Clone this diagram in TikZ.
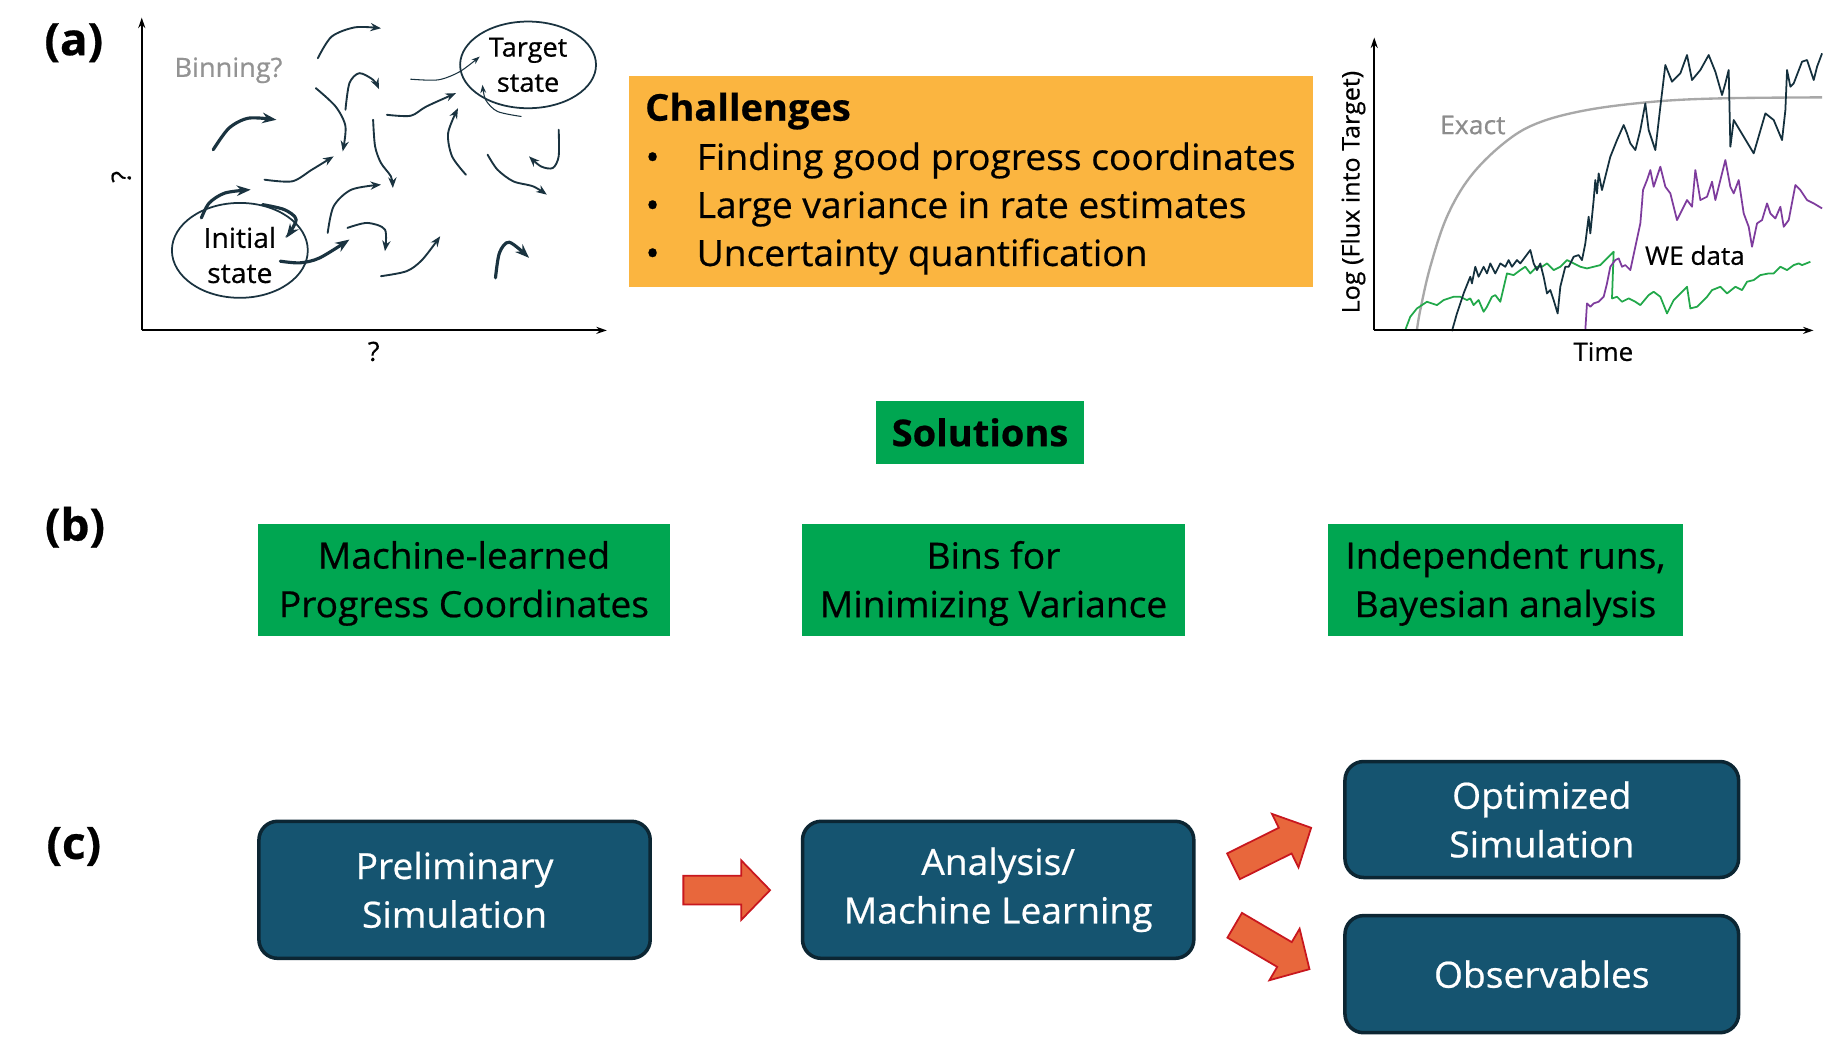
\documentclass[tikz,border=0pt]{standalone}
\usepackage{fontspec}
\setmainfont{Open Sans}[FakeBold=0.6, FakeStretch=1.03]
\usetikzlibrary{arrows.meta,shapes.geometric}
\definecolor{sgreen}{HTML}{00A651}
\definecolor{sorange}{HTML}{FBB540}
\definecolor{dteal}{HTML}{155470}
\definecolor{dline}{HTML}{0C2633}
\definecolor{navy}{HTML}{1A3340}
\definecolor{afill}{HTML}{E8673C}
\definecolor{aline}{HTML}{C8171E}
\definecolor{cgreen}{HTML}{22A84A}
\definecolor{cpurple}{HTML}{7E3C9D}
\definecolor{cdark}{HTML}{14303D}
\definecolor{cgray}{HTML}{A8A8A8}
\tikzset{
  lbl/.style={font=\fontsize{38}{38}\selectfont\bfseries},
  big/.style={font=\fontsize{30.8}{41.5}\selectfont, align=center},
  gbox/.style={fill=sgreen, inner sep=0pt},
  gtext/.style={big, inner sep=0pt, yshift=-3pt},
  dbox/.style={big, text=white, fill=dteal, draw=dline, line width=3pt, rounded corners=16pt, inner sep=0pt},
  small/.style={font=\fontsize{22.5}{30}\selectfont, align=center},
  tr/.style={draw=navy, line width=1.6pt, line cap=round, -{Stealth[length=9pt,width=7pt]}},
  trk/.style={tr, line width=2.7pt, -{Stealth[length=12pt,width=9pt]}},
  trt/.style={tr, line width=0.9pt, -{Stealth[length=7pt,width=5pt]}},
  axis/.style={draw=black, line width=1.8pt, -{Stealth[length=9pt,width=6pt]}},
  jag/.style={line width=1.5pt, line join=round},
  barrow/.pic={\path[fill=afill, draw=aline, line width=1.5pt, line join=miter]
     (-37,-12.25) -- (12.3,-12.25) -- (12.3,-25.5) -- (37,0) -- (12.3,25.5) -- (12.3,12.25) -- (-37,12.25) -- cycle;}
}
\begin{document}
\begin{tikzpicture}[x=1pt,y=-1pt]
\useasboundingbox[fill=white] (0,0) rectangle (1568,897);

% ---------- labels
\node[lbl] (la) at (63,36.5) {(a)};
\node[lbl] (lb) at (64,450) {(b)};
\node[lbl] (lc) at (63,722.5) {(c)};

% ---------- panel (a) left sketch
\coordinate (ao) at (121,282);
\coordinate (ay) at (121,15);
\coordinate (ax) at (518,282);
\draw[axis] (ao) -- (ay);
\draw[axis] (ao) -- (ax);
\node[small, rotate=90] (qy) at (103.5,151) {?};
\node[small] (qx) at (319,300) {?};
\node[small, text=gray!85] (bin) at (195,60) {Binning?};

\begin{scope}[x=0.337pt, y=-0.284pt]
  \node[draw=navy, line width=1.5pt, ellipse, minimum width=116pt, minimum height=81pt, inner sep=0pt] (init) at (607.5,752.5) {};
  \node[font=\fontsize{23.5}{30}\selectfont, align=center, inner sep=0pt, yshift=-4pt] (initt) at (init.center) {Initial\\state};
  \node[draw=navy, line width=1.5pt, ellipse, minimum width=116pt, minimum height=74pt, inner sep=0pt] (targ) at (1337.5,195) {};
  \node[font=\fontsize{22.5}{30}\selectfont, align=center, inner sep=0pt] (targt) at (targ.center) {Target\\state};
  \draw[tr] plot[smooth] coordinates {(805,175) (840,110) (900,82) (965,85)};
  \draw[trt] plot[smooth] coordinates {(1040,238) (1110,240) (1165,215) (1215,170)};
  \draw[trt] plot[smooth] coordinates {(1320,350) (1260,335) (1230,300) (1222,255)};
  \draw[tr] plot[smooth] coordinates {(800,265) (850,320) (875,380) (868,455)};
  \draw[tr] plot[smooth] coordinates {(875,330) (885,250) (910,220) (945,240) (960,268)};
  \draw[trk] plot[smooth] coordinates {(540,450) (580,385) (630,355) (700,360)};
  \draw[tr] plot[smooth] coordinates {(945,360) (950,440) (965,490) (990,530) (995,565)};
  \draw[tr] plot[smooth] coordinates {(980,345) (1040,348) (1080,320) (1155,280)};
  \draw[tr] plot[smooth] coordinates {(1180,525) (1145,470) (1135,400) (1160,325)};
  \draw[tr] plot[smooth] coordinates {(1415,390) (1415,470) (1400,505) (1370,500) (1340,470)};
  \draw[tr] plot[smooth] coordinates {(1235,465) (1260,510) (1300,545) (1350,560) (1385,585)};
  \draw[tr] plot[smooth] coordinates {(670,540) (740,545) (790,510) (845,470)};
  \draw[trk] plot[smooth] coordinates {(510,655) (530,610) (570,580) (635,570)};
  \draw[trk] plot[smooth] coordinates {(665,615) (720,630) (750,660) (725,715)};
  \draw[tr] plot[smooth] coordinates {(830,700) (845,620) (890,570) (965,555)};
  \draw[trk] plot[smooth] coordinates {(710,785) (760,790) (810,775) (885,720)};
  \draw[tr] plot[smooth] coordinates {(880,685) (930,670) (975,690) (975,755)};
  \draw[tr] plot[smooth] coordinates {(965,830) (1030,815) (1070,780) (1115,710)};
  \draw[trk] plot[smooth] coordinates {(1255,835) (1265,760) (1290,728) (1340,775)};
\end{scope}

% ---------- challenges
\node[fill=sorange, minimum width=584pt, minimum height=180pt, inner sep=0pt] (chal) at (829,155) {};
\node[anchor=base west, font=\fontsize{31.5}{36}\selectfont\bfseries, inner sep=0pt] (c0) at (550.5,103) {Challenges};
\foreach \t/\yy [count=\i] in {Finding good progress coordinates/145, Large variance in rate estimates/186, Uncertainty quantification/227}{
  \node[anchor=base, font=\fontsize{30.8}{36}\selectfont, inner sep=0pt] (bul\i) at (557,\yy) {•};
  \node[anchor=base west, font=\fontsize{30.8}{36}\selectfont, inner sep=0pt] (c\i) at (594.5,\yy) {\t};
}

% ---------- right chart
\coordinate (bo) at (1173,282);
\coordinate (by) at (1173,32);
\coordinate (bx) at (1548,282);
\begin{scope}[shift={(1126.9,0)}, x=0.2846pt, y=-0.2846pt]
  \draw[cgray, line width=2pt] plot[smooth, tension=0.6] coordinates {(290,990) (300,930) (330,800) (380,650) (450,530) (550,430) (650,370) (800,330) (1000,305) (1200,295) (1505,292)};
  \draw[jag, cgreen] plot coordinates {(255,990) (270,950) (290,925) (320,905) (335,910) (350,915) (370,900) (385,895) (400,890) (420,890) (440,900) (450,895) (460,915) (475,900) (490,935) (500,920) (515,890) (525,885) (540,905) (560,820) (580,825) (600,810) (615,800) (630,820) (650,800) (665,800) (680,790) (700,810) (720,800) (740,780) (760,790) (780,800) (800,805) (820,800) (840,795) (860,775) (880,755) (875,895) (890,890) (905,905) (925,895) (945,905) (960,915) (985,885) (1000,875) (1020,890) (1040,940) (1060,900) (1080,880) (1100,860) (1110,925) (1130,920) (1160,890) (1175,870) (1200,860) (1220,880) (1245,860) (1265,870) (1280,845) (1300,840) (1320,825) (1345,820) (1360,820) (1380,800) (1400,810) (1420,795) (1435,790) (1445,795) (1470,785)};
  \draw[jag, cpurple] plot coordinates {(795,990) (800,910) (810,920) (820,910) (835,905) (850,890) (860,850) (870,800) (885,780) (895,775) (905,800) (915,795) (930,810) (945,740) (960,670) (965,610) (968,570) (980,540) (990,510) (1000,560) (1020,500) (1035,560) (1050,580) (1070,660) (1085,630) (1100,600) (1115,620) (1125,510) (1140,600) (1160,590) (1175,545) (1185,600) (1200,540) (1215,480) (1230,560) (1240,580) (1255,540) (1270,640) (1285,680) (1295,740) (1310,670) (1325,660) (1340,610) (1350,640) (1365,655) (1380,620) (1390,680) (1405,660) (1425,555) (1440,570) (1460,600) (1480,610) (1505,625)};
  \draw[jag, cdark] plot coordinates {(395,993) (410,940) (430,880) (450,830) (455,850) (465,800) (475,830) (490,800) (500,820) (510,790) (525,820) (540,790) (555,800) (565,780) (575,800) (590,780) (600,790) (615,770) (630,750) (640,790) (650,810) (660,790) (670,830) (680,880) (690,870) (700,900) (712,940) (720,860) (735,800) (745,800) (760,770) (775,765) (785,780) (795,730) (800,690) (805,650) (810,700) (815,650) (820,600) (825,540) (830,580) (835,520) (845,570) (855,530) (870,470) (890,420) (910,375) (920,400) (930,430) (945,450) (960,390) (975,310) (985,390) (1005,450) (1020,320) (1035,195) (1055,245) (1080,220) (1100,165) (1115,240) (1140,210) (1165,165) (1185,215) (1205,285) (1215,250) (1225,210) (1230,440) (1240,360) (1270,410) (1300,460) (1335,340) (1360,360) (1385,420) (1395,330) (1400,210) (1410,260) (1420,250) (1445,185) (1460,180) (1480,240) (1490,200) (1505,160)};
\end{scope}
\draw[axis] (bo) -- (by);
\draw[axis] (bo) -- (bx);
\node[font=\fontsize{22}{22}\selectfont, text=gray!90, anchor=base west, inner sep=0pt] (exact) at (1229,114.5) {Exact};
\node[font=\fontsize{21.6}{22}\selectfont, anchor=base west, inner sep=0pt] (we) at (1404,226) {WE data};
\node[font=\fontsize{21.6}{22}\selectfont, anchor=base, inner sep=0pt] (time) at (1368.5,308) {Time};
\node[font=\fontsize{20.8}{21}\selectfont, rotate=90, inner sep=0pt] (logf) at (1155,164) {Log (Flux into Target)};

% ---------- solutions
\node[gbox, font=\fontsize{31.5}{36}\selectfont\bfseries, minimum width=177pt, minimum height=54pt] (sol) at (836.5,369) {Solutions};
\node[gbox, minimum width=351pt, minimum height=96pt] (b1) at (396,495) {};
\node[gtext] (b1t) at (b1.center) {Machine-learned\\Progress Coordinates};
\node[gbox, minimum width=327pt, minimum height=96pt] (b2) at (848,495) {};
\node[gtext] (b2t) at (b2.center) {Bins for\\Minimizing Variance};
\node[gbox, minimum width=303pt, minimum height=96pt] (b3) at (1285,495) {};
\node[gtext] (b3t) at (b3.center) {Independent runs,\\Bayesian analysis};

% ---------- panel (c)
\node[dbox, minimum width=334pt, minimum height=117pt] (p1) at (388,759.5) {Preliminary\\Simulation};
\node[dbox, minimum width=334pt, minimum height=117pt] (p2) at (852,759.5) {Analysis/\\Machine Learning};
\node[dbox, minimum width=336pt, minimum height=99pt] (p3) at (1316,699.5) {Optimized\\Simulation};
\node[dbox, minimum width=336pt, minimum height=100pt] (p4) at (1316,831.5) {Observables};
\pic (ar1) at (620.3,759.8) {barrow};
\pic[rotate=26.4] (ar2) at (1086,723) {barrow};
\pic[rotate=-30.4] (ar3) at (1085.8,808.5) {barrow};
\end{tikzpicture}
\end{document}
